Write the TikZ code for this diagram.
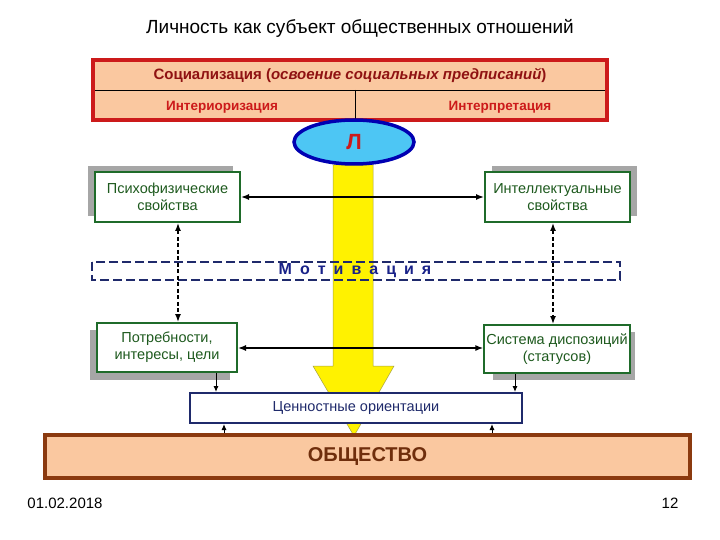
\documentclass[tikz,border=0pt]{standalone}
\usepackage{fontspec}
\setmainfont{Liberation Sans}
\usetikzlibrary{arrows.meta}
\definecolor{peach}{HTML}{FAC8A0}
\definecolor{redb}{HTML}{CC1A1A}
\definecolor{gtxt}{HTML}{1E5A1E}
\definecolor{gbrd}{HTML}{1F6B2A}
\definecolor{navy}{HTML}{1F2A6B}
\definecolor{brownb}{HTML}{8B3A0F}
\tikzset{
 gbox/.style={draw=gbrd,line width=2pt,fill=white,align=center,font=\fontsize{14.5}{17}\selectfont,text=gtxt,minimum width=145pt,minimum height=50pt,inner sep=2pt},
 shad/.style={fill=gray!70},
 dbl/.style={{Latex[length=8pt,width=6pt]}-{Latex[length=8pt,width=6pt]},line width=1.4pt},
 dot/.style={{Latex[length=8pt,width=6pt]}-{Latex[length=8pt,width=6pt]},dash pattern=on 4pt off 2.5pt,line width=1.4pt},
 sm/.style={-{Latex[length=6pt,width=5pt]},line width=1pt}
}
\begin{document}
\begin{tikzpicture}[x=1pt,y=-1pt]
\useasboundingbox[fill=white] (0,0) rectangle (720,540);
\node[font=\fontsize{19}{21}\selectfont] (title) at (360,28) {Личность как субъект общественных отношений};
% top box
\draw[draw=redb,line width=4pt,fill=peach] (93,60) rectangle (607,120);
\coordinate (tl) at (95,90); \coordinate (tr) at (605,90);
\draw[line width=0.7pt] (tl) -- (tr);
\coordinate (vt) at (355,90); \coordinate (vb) at (355,120);
\draw[line width=0.7pt] (vt) -- (vb);
\node[text=redb!70!black,font=\bfseries\fontsize{15}{17}\selectfont] (soc) at (350,75) {Социализация (\textit{освоение социальных  предписаний})};
\node[text=redb,font=\bfseries\fontsize{13.5}{15}\selectfont] (int1) at (222,107) {Интериоризация};
\node[text=redb,font=\bfseries\fontsize{13.5}{15}\selectfont] (int2) at (500,107) {Интерпретация};
% yellow arrow
\fill[yellow,draw=yellow!60!black,line width=0.5pt] (333,165) -- (373,165) -- (373,366) -- (394,366) -- (354,436) -- (313,366) -- (333,366) -- cycle;
% ellipse
\draw[draw=blue!70!black,line width=3.5pt,fill=cyan!70] (354,142) ellipse [x radius=60,y radius=22];
\node[text=redb,font=\bfseries\fontsize{22}{24}\selectfont] (L) at (354,142) {Л};
% motivation
\draw[navy,dash pattern=on 9pt off 4pt,line width=2pt] (92,262) rectangle (620,280);
\node[text=navy!80!blue,font=\bfseries\fontsize{16}{18}\selectfont] (mot) at (355,271) {М\,\,\,о\,\,\,т\,\,\,и\,\,\,в\,\,\,а\,\,\,ц\,\,\,и\,\,\,я};
% shadows
\fill[shad] (88,166) rectangle (233,216);
\fill[shad] (492,166) rectangle (637,216);
\fill[shad] (90,330) rectangle (230,380);
\fill[shad] (493,332) rectangle (635,380);
\node[gbox] (psy) at (167.5,197) {Психофизические\\свойства};
\node[gbox] (intl) at (557.5,197) {Интеллектуальные\\свойства};
\node[gbox,minimum width=140pt,minimum height=49pt] (need) at (167,347.5) {Потребности,\\интересы, цели};
\node[gbox,minimum width=142pt,minimum height=48pt] (sys) at (557,349) {Система диспозиций\\(статусов)};
\draw[dbl] (psy) -- (intl);
\draw[dbl] (need.east |- 0,348) -- (sys.west |- 0,348);
\draw[dot] (psy.south -| 178,0) -- (need.north -| 178,0);
\draw[dot] (intl.south -| 553,0) -- (sys.north -| 553,0);
% value box
\node[draw=navy,line width=2pt,fill=white,minimum width=332pt,minimum height=30pt,text=navy,font=\fontsize{14.5}{17}\selectfont] (val) at (356,408) {Ценностные ориентации};
\draw[sm] (need.south -| 216,0) -- (val.north -| 216,0);
\draw[sm] (sys.south -| 515,0) -- (val.north -| 515,0);
% society
\node[draw=brownb,line width=4pt,fill=peach,minimum width=645pt,minimum height=43pt,text=brownb!80!black,font=\bfseries\fontsize{20}{22}\selectfont] (soc2) at (367.5,456.5) {ОБЩЕСТВО};
\draw[sm] (soc2.north -| 224,0) -- (val.south -| 224,0);
\draw[sm] (soc2.north -| 492,0) -- (val.south -| 492,0);
\node[font=\fontsize{15}{17}\selectfont] (date) at (65,503) {01.02.2018};
\node[font=\fontsize{15}{17}\selectfont] (pg) at (670,503) {12};
\end{tikzpicture}
\end{document}
